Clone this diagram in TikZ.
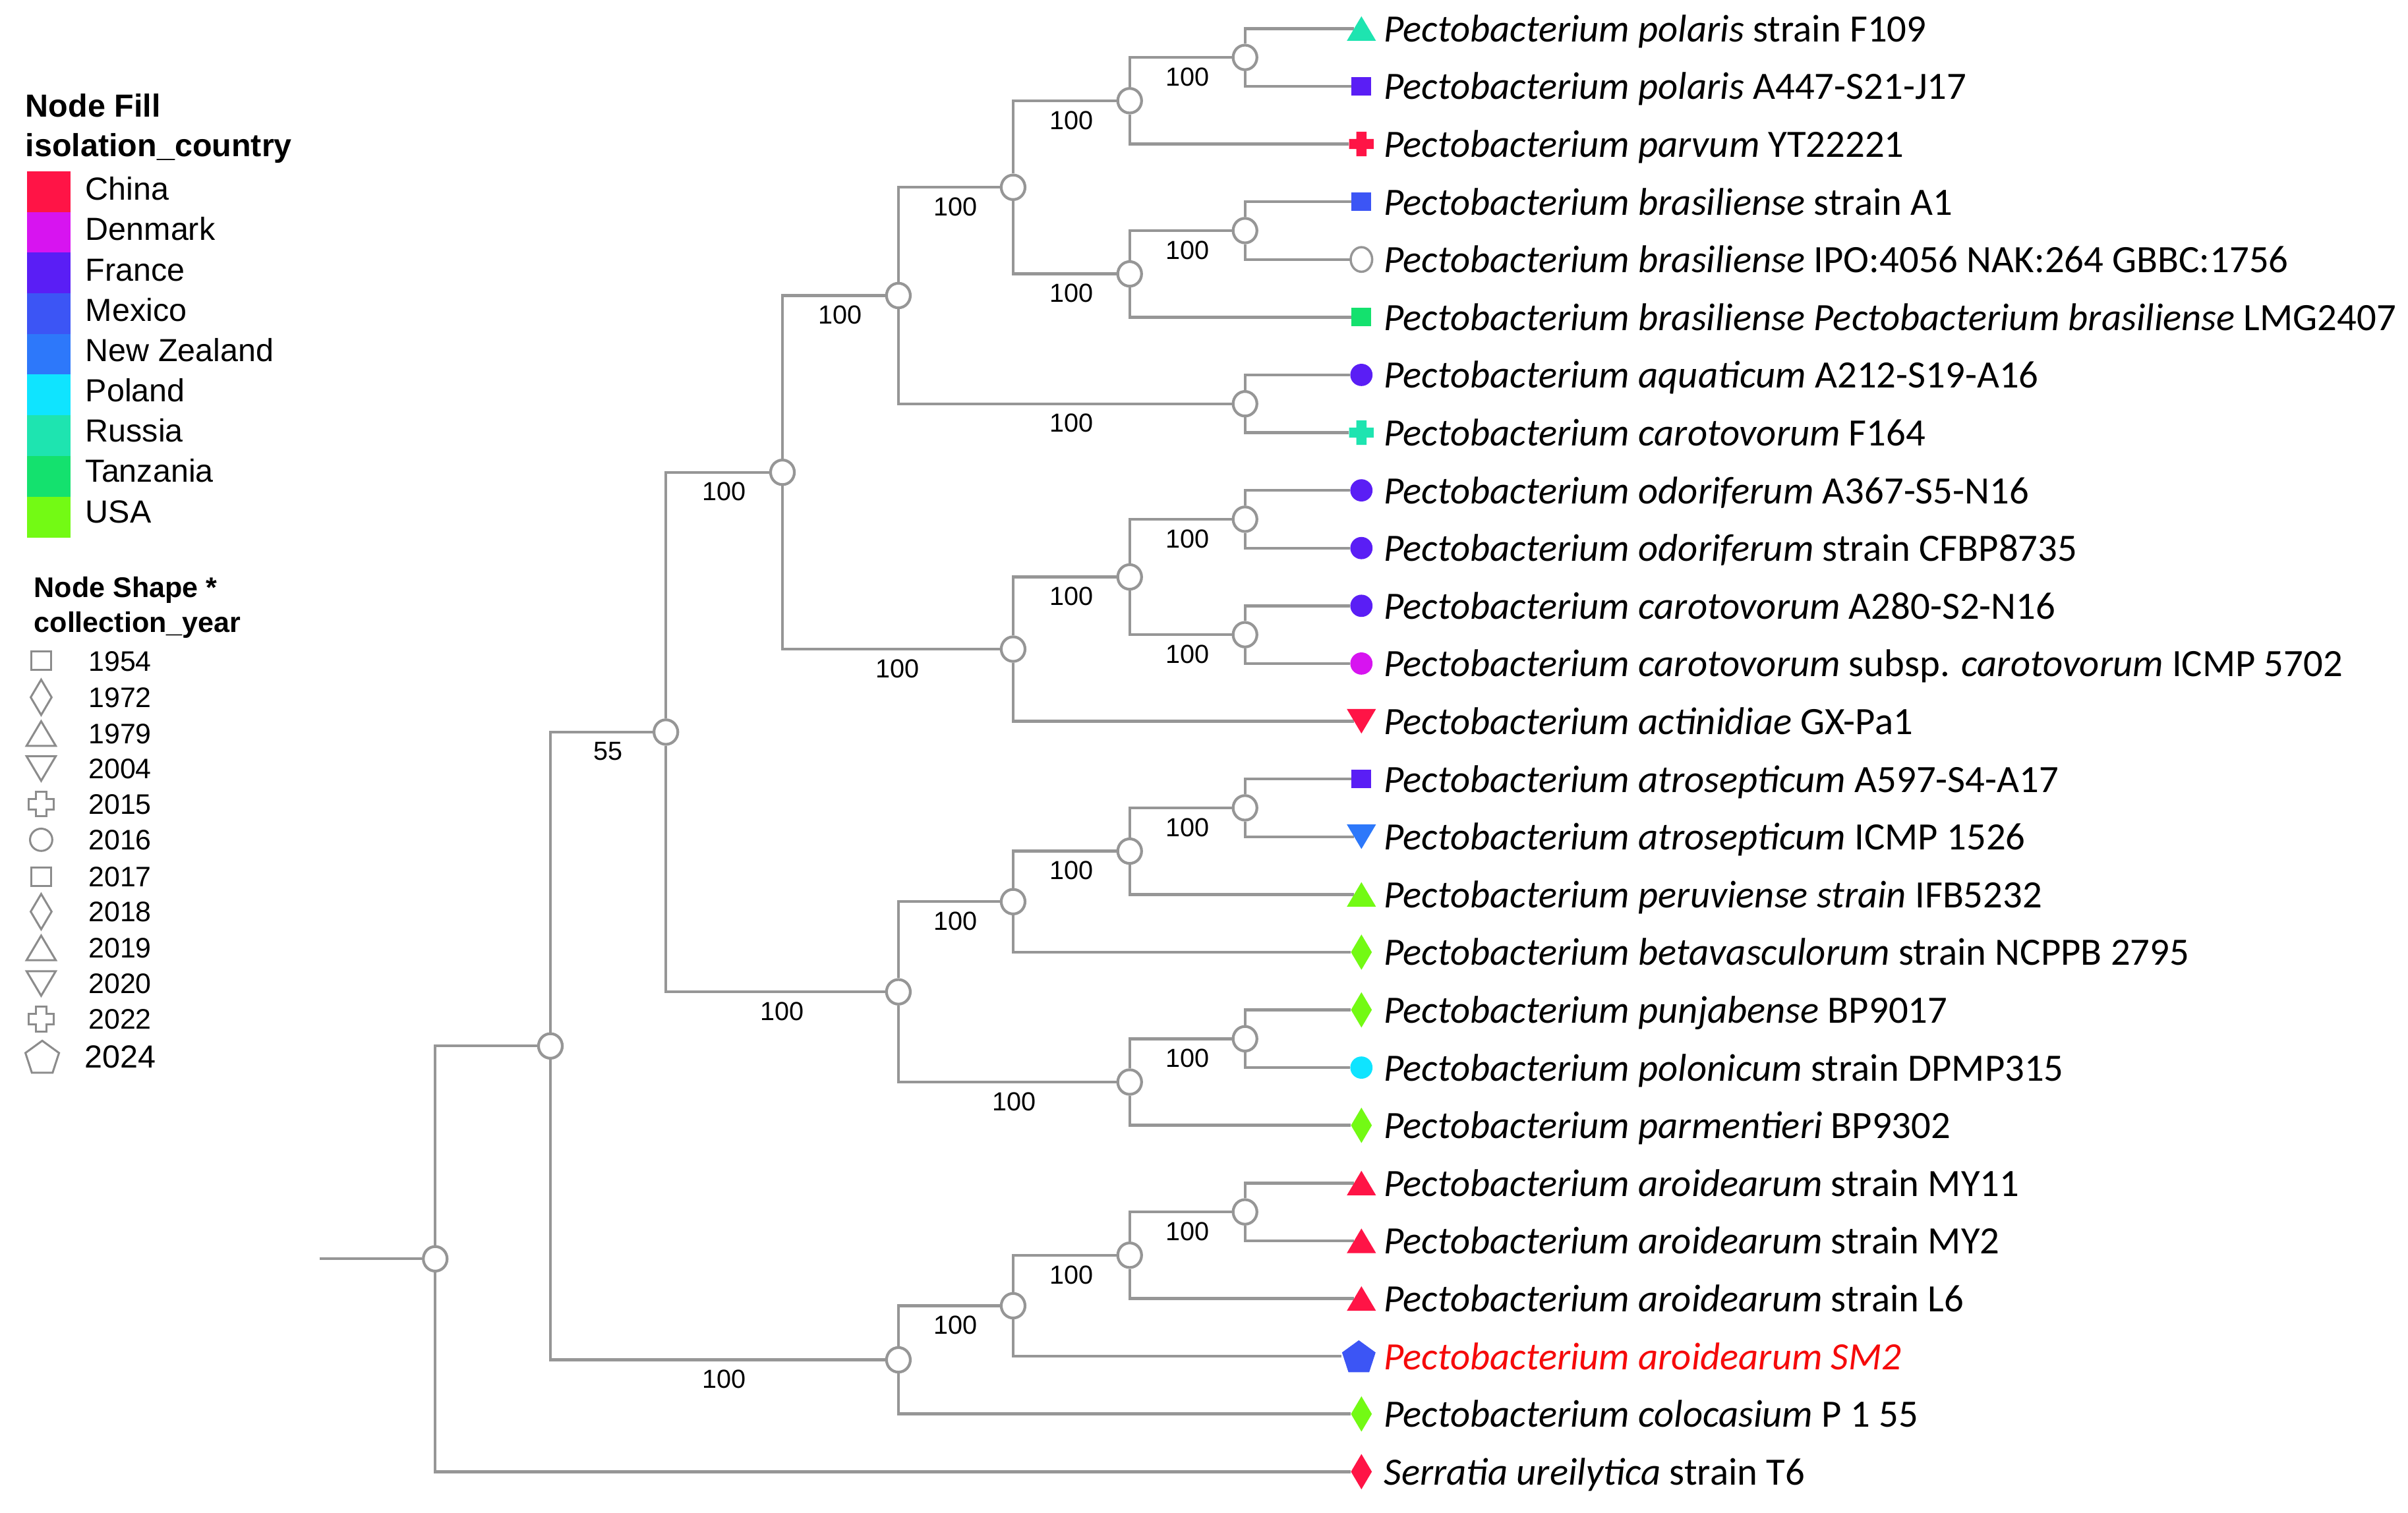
\documentclass[tikz,border=0pt]{standalone}
\usepackage{fontspec}
\setmainfont{Liberation Sans}
\newfontfamily\calfont{Carlito}
\usetikzlibrary{shapes.geometric}
\definecolor{brgray}{RGB}{150,150,150}
\definecolor{lgray}{RGB}{140,140,140}
\definecolor{cChina}{RGB}{255,20,70}
\definecolor{cDenmark}{RGB}{215,20,240}
\definecolor{cFrance}{RGB}{90,30,245}
\definecolor{cMexico}{RGB}{60,85,245}
\definecolor{cNZ}{RGB}{45,120,250}
\definecolor{cPoland}{RGB}{15,228,255}
\definecolor{cRussia}{RGB}{30,228,176}
\definecolor{cTanzania}{RGB}{20,225,110}
\definecolor{cUSA}{RGB}{115,250,20}
\definecolor{redlab}{RGB}{245,10,10}
\tikzset{
  branch/.style={draw=brgray, line width=1.9pt},
  inode/.style={ellipse, draw=brgray, fill=white, line width=1.8pt, minimum width=15.5pt, minimum height=16pt, inner sep=0pt},
  mk/.style={rectangle, inner sep=0pt, minimum width=#1, minimum height=4pt},
  lab/.style={anchor=base west, inner sep=0pt, font=\calfont\fontsize{25.2}{29}\selectfont},
  bs/.style={inner sep=0pt, font=\fontsize{17}{20}\selectfont},
  lgtitle/.style={anchor=base west, inner sep=0pt, font=\bfseries\fontsize{20.8}{24}\selectfont},
  lgtext/.style={anchor=base west, inner sep=0pt, font=\fontsize{20.8}{24}\selectfont},
  lgtitleb/.style={anchor=base west, inner sep=0pt, font=\bfseries\fontsize{18.5}{22}\selectfont},
  lgyear/.style={anchor=base west, inner sep=0pt, font=\fontsize{18.4}{22}\selectfont},
  lgsym/.style={draw=lgray, line width=1.3pt, fill=white},
  sqp/.pic={\path[#1] (-6.5,-6) rectangle (6.5,6);},
  dotp/.pic={\path[#1] (0,0) circle (7.25);},
  opendot/.pic={\path[draw=brgray, fill=white, line width=1.5pt] (0,0) ellipse (7 and 8);},
  trip/.pic={\path[#1] (-9.5,-8) -- (9.5,-8) -- (0,8) -- cycle;},
  tridp/.pic={\path[#1] (-9.5,8) -- (9.5,8) -- (0,-8) -- cycle;},
  plusp/.pic={\path[#1] (-3.3,-8) -- (3.3,-8) -- (3.3,-3.3) -- (8,-3.3) -- (8,3.3) -- (3.3,3.3) -- (3.3,8) -- (-3.3,8) -- (-3.3,3.3) -- (-8,3.3) -- (-8,-3.3) -- (-3.3,-3.3) -- cycle;},
  diap/.pic={\path[#1] (0,-11.5) -- (6.8,0) -- (0,11.5) -- (-6.8,0) -- cycle;},
  pentp/.pic={\path[#1, shift={(0,-1.1)}] (90:11.5) -- (162:11.5) -- (234:11.5) -- (306:11.5) -- (18:11.5) -- cycle;},
}
\begin{document}
\begin{tikzpicture}[x=1pt,y=1pt]
\useasboundingbox[fill=white] (0,0) rectangle (1568,-985.5);

% ---------- internal nodes ----------
\node[inode] (L) at (810.7,-37.4) {};
\node[inode] (J) at (735.6,-65.6) {};
\node[inode] (M) at (810.7,-150.2) {};
\node[inode] (K) at (735.6,-178.4) {};
\node[inode] (H) at (659.7,-122.0) {};
\node[inode] (I) at (810.7,-263.0) {};
\node[inode] (F) at (585,-192.5) {};
\node[inode] (O) at (810.7,-338.2) {};
\node[inode] (P) at (810.7,-413.4) {};
\node[inode] (N) at (735.6,-375.8) {};
\node[inode] (G) at (659.7,-422.8) {};
\node[inode] (D) at (509.5,-307.65) {};
\node[inode] (T) at (810.7,-526.2) {};
\node[inode] (S) at (735.6,-554.4) {};
\node[inode] (Q) at (659.7,-587.3) {};
\node[inode] (U) at (810.7,-676.6) {};
\node[inode] (R) at (735.6,-704.8) {};
\node[inode] (E) at (585,-646.05) {};
\node[inode] (B) at (433.6,-476.85) {};
\node[inode] (X) at (810.7,-789.4) {};
\node[inode] (W) at (735.6,-817.6) {};
\node[inode] (V) at (659.7,-850.5) {};
\node[inode] (C) at (585,-885.75) {};
\node[inode] (A) at (358.4,-681.3) {};
\node[inode] (R0) at (283.4,-819.95) {};
\coordinate (stem) at (208,-819.95);

% ---------- leaf marker anchors ----------
\node[mk=9.5pt] (m1) at (886.5,-18.6) {};
\node[mk=13pt] (m2) at (886.5,-56.2) {};
\node[mk=16pt] (m3) at (886.5,-93.8) {};
\node[mk=13pt] (m4) at (886.5,-131.4) {};
\node[mk=14pt] (m5) at (886.5,-169.0) {};
\node[mk=13pt] (m6) at (886.5,-206.6) {};
\node[mk=14.5pt] (m7) at (886.5,-244.2) {};
\node[mk=16pt] (m8) at (886.5,-281.8) {};
\node[mk=14.5pt] (m9) at (886.5,-319.4) {};
\node[mk=14.5pt] (m10) at (886.5,-357.0) {};
\node[mk=14.5pt] (m11) at (886.5,-394.6) {};
\node[mk=14.5pt] (m12) at (886.5,-432.2) {};
\node[mk=9.5pt] (m13) at (886.5,-469.8) {};
\node[mk=13pt] (m14) at (886.5,-507.4) {};
\node[mk=9.5pt] (m15) at (886.5,-545.0) {};
\node[mk=9.5pt] (m16) at (886.5,-582.6) {};
\node[mk=13.6pt] (m17) at (886.5,-620.2) {};
\node[mk=13.6pt] (m18) at (886.5,-657.8) {};
\node[mk=14.5pt] (m19) at (886.5,-695.4) {};
\node[mk=13.6pt] (m20) at (886.5,-733.0) {};
\node[mk=9.5pt] (m21) at (886.5,-770.6) {};
\node[mk=9.5pt] (m22) at (886.5,-808.2) {};
\node[mk=9.5pt] (m23) at (886.5,-845.8) {};
\node[mk=22pt] (m24) at (884.8,-883.4) {};
\node[mk=13.6pt] (m25) at (886.5,-921.0) {};
\node[mk=13.6pt] (m26) at (886.5,-958.6) {};

% ---------- branches ----------
\draw[branch] (stem) -- (R0);
\foreach \p/\c in {L/m1,L/m2,J/L,J/m3,M/m4,M/m5,K/M,K/m6,H/J,H/K,I/m7,I/m8,F/H,F/I,
  O/m9,O/m10,P/m11,P/m12,N/O,N/P,G/N,G/m13,D/F,D/G,
  T/m14,T/m15,S/T,S/m16,Q/S,Q/m17,U/m18,U/m19,R/U,R/m20,E/Q,E/R,B/D,B/E,
  X/m21,X/m22,W/X,W/m23,V/W,V/m24,C/V,C/m25,A/B,A/C,R0/A,R0/m26}
  \draw[branch] (\p) |- (\c);

% ---------- markers ----------
\pic at (m1) {trip={fill=cRussia}};
\pic at (m2) {sqp={fill=cFrance}};
\pic at (m3) {plusp={fill=cChina}};
\pic at (m4) {sqp={fill=cMexico}};
\pic at (m5) {opendot};
\pic at (m6) {sqp={fill=cTanzania}};
\pic at (m7) {dotp={fill=cFrance}};
\pic at (m8) {plusp={fill=cRussia}};
\pic at (m9) {dotp={fill=cFrance}};
\pic at (m10) {dotp={fill=cFrance}};
\pic at (m11) {dotp={fill=cFrance}};
\pic at (m12) {dotp={fill=cDenmark}};
\pic at (m13) {tridp={fill=cChina}};
\pic at (m14) {sqp={fill=cFrance}};
\pic at (m15) {tridp={fill=cNZ}};
\pic at (m16) {trip={fill=cUSA}};
\pic at (m17) {diap={fill=cUSA}};
\pic at (m18) {diap={fill=cUSA}};
\pic at (m19) {dotp={fill=cPoland}};
\pic at (m20) {diap={fill=cUSA}};
\pic at (m21) {trip={fill=cChina}};
\pic at (m22) {trip={fill=cChina}};
\pic at (m23) {trip={fill=cChina}};
\pic at (m24) {pentp={fill=cMexico}};
\pic at (m25) {diap={fill=cUSA}};
\pic at (m26) {diap={fill=cChina}};

% ---------- bootstrap values ----------
\node[bs] (bL) at (773.15,-50.1) {100};
\node[bs] (bJ) at (697.65,-78.3) {100};
\node[bs] (bM) at (773.15,-162.9) {100};
\node[bs] (bK) at (697.65,-191.1) {100};
\node[bs] (bH) at (622.35,-134.7) {100};
\node[bs] (bI) at (697.85,-275.7) {100};
\node[bs] (bF) at (547.25,-205.2) {100};
\node[bs] (bO) at (773.15,-350.9) {100};
\node[bs] (bP) at (773.15,-426.1) {100};
\node[bs] (bN) at (697.65,-388.5) {100};
\node[bs] (bG) at (584.6,-435.5) {100};
\node[bs] (bD) at (471.55,-320.35) {100};
\node[bs] (bT) at (773.15,-538.9) {100};
\node[bs] (bS) at (697.65,-567.1) {100};
\node[bs] (bQ) at (622.35,-600.0) {100};
\node[bs] (bU) at (773.15,-689.3) {100};
\node[bs] (bR) at (660.3,-717.5) {100};
\node[bs] (bE) at (509.3,-658.75) {100};
\node[bs] (bB) at (396,-489.55) {55};
\node[bs] (bX) at (773.15,-802.1) {100};
\node[bs] (bW) at (697.65,-830.3) {100};
\node[bs] (bV) at (622.35,-863.2) {100};
\node[bs] (bC) at (471.7,-898.45) {100};

% ---------- leaf labels ----------
\node[lab] (t1) at (901,-27.2) {\textit{Pectobacterium polaris} strain F109};
\node[lab] (t2) at (901,-64.8) {\textit{Pectobacterium polaris} A447-S21-J17};
\node[lab] (t3) at (901,-102.4) {\textit{Pectobacterium parvum} YT22221};
\node[lab] (t4) at (901,-140.0) {\textit{Pectobacterium brasiliense} strain A1};
\node[lab] (t5) at (901,-177.6) {\textit{Pectobacterium brasiliense} IPO:4056 NAK:264 GBBC:1756};
\node[lab] (t6) at (901,-215.2) {\textit{Pectobacterium brasiliense Pectobacterium brasiliense} LMG2407};
\node[lab] (t7) at (901,-252.8) {\textit{Pectobacterium aquaticum} A212-S19-A16};
\node[lab] (t8) at (901,-290.4) {\textit{Pectobacterium carotovorum} F164};
\node[lab] (t9) at (901,-328.0) {\textit{Pectobacterium odoriferum} A367-S5-N16};
\node[lab] (t10) at (901,-365.6) {\textit{Pectobacterium odoriferum} strain CFBP8735};
\node[lab] (t11) at (901,-403.2) {\textit{Pectobacterium carotovorum} A280-S2-N16};
\node[lab] (t12) at (901,-440.8) {\textit{Pectobacterium carotovorum} subsp. \textit{carotovorum} ICMP 5702};
\node[lab] (t13) at (901,-478.4) {\textit{Pectobacterium actinidiae} GX-Pa1};
\node[lab] (t14) at (901,-516.0) {\textit{Pectobacterium atrosepticum} A597-S4-A17};
\node[lab] (t15) at (901,-553.6) {\textit{Pectobacterium atrosepticum} ICMP 1526};
\node[lab] (t16) at (901,-591.2) {\textit{Pectobacterium peruviense strain} IFB5232};
\node[lab] (t17) at (901,-628.8) {\textit{Pectobacterium betavasculorum} strain NCPPB 2795};
\node[lab] (t18) at (901,-666.4) {\textit{Pectobacterium punjabense} BP9017};
\node[lab] (t19) at (901,-704.0) {\textit{Pectobacterium polonicum} strain DPMP315};
\node[lab] (t20) at (901,-741.6) {\textit{Pectobacterium parmentieri} BP9302};
\node[lab] (t21) at (901,-779.2) {\textit{Pectobacterium aroidearum} strain MY11};
\node[lab] (t22) at (901,-816.8) {\textit{Pectobacterium aroidearum} strain MY2};
\node[lab] (t23) at (901,-854.4) {\textit{Pectobacterium aroidearum} strain L6};
\node[lab, text=redlab] (t24) at (901,-892.0) {\textit{Pectobacterium aroidearum SM2}};
\node[lab] (t25) at (901,-929.6) {\textit{Pectobacterium colocasium} P 1 55};
\node[lab] (t26) at (901,-967.2) {\textit{Serratia ureilytica} strain T6};

% ---------- legend: node fill ----------
\node[lgtitle] (lgA) at (16.5,-76) {Node Fill};
\node[lgtitle] (lgB) at (16.5,-102) {isolation\_country};
\foreach \c/\t [count=\k from 0] in {cChina/China,cDenmark/Denmark,cFrance/France,cMexico/Mexico,cNZ/New Zealand,cPoland/Poland,cRussia/Russia,cTanzania/Tanzania,cUSA/USA}{
  \fill[\c] (17.5,-111.5-26.5*\k) rectangle (46,-138.2-26.5*\k);
  \node[lgtext] (lc\k) at (55.5,-130.4-26.25*\k) {\t};
}

% ---------- legend: node shape ----------
\node[lgtitleb] (lgC) at (22,-389) {Node Shape *};
\node[lgtitleb] (lgD) at (22,-412) {collection\_year};
\coordinate (s1) at (26.8,-430.5);
\coordinate (s2) at (26.8,-454.2);
\coordinate (s3) at (26.8,-477.8);
\coordinate (s4) at (26.8,-500.6);
\coordinate (s5) at (26.8,-523.8);
\coordinate (s6) at (26.8,-547.0);
\coordinate (s7) at (26.8,-571.0);
\coordinate (s8) at (26.8,-593.8);
\coordinate (s9) at (26.8,-617.4);
\coordinate (s10) at (26.8,-640.6);
\coordinate (s11) at (26.8,-663.8);
\coordinate (s12) at (27.5,-688.3);
\pic at (s1) {sqp=lgsym};
\pic at (s2) {diap=lgsym};
\pic at (s3) {trip=lgsym};
\pic at (s4) {tridp=lgsym};
\pic at (s5) {plusp=lgsym};
\pic at (s6) {dotp=lgsym};
\pic at (s7) {sqp=lgsym};
\pic at (s8) {diap=lgsym};
\pic at (s9) {trip=lgsym};
\pic at (s10) {tridp=lgsym};
\pic at (s11) {plusp=lgsym};
\pic at (s12) {pentp=lgsym};
\node[lgyear] (y1) at (57.5,-437.1) {1954};
\node[lgyear] (y2) at (57.5,-460.8) {1972};
\node[lgyear] (y3) at (57.5,-484.4) {1979};
\node[lgyear] (y4) at (57.5,-507.2) {2004};
\node[lgyear] (y5) at (57.5,-530.4) {2015};
\node[lgyear] (y6) at (57.5,-553.6) {2016};
\node[lgyear] (y7) at (57.5,-577.6) {2017};
\node[lgyear] (y8) at (57.5,-600.4) {2018};
\node[lgyear] (y9) at (57.5,-624.0) {2019};
\node[lgyear] (y10) at (57.5,-647.2) {2020};
\node[lgyear] (y11) at (57.5,-670.4) {2022};
\node[lgtext] (y12) at (55,-695.7) {2024};
\end{tikzpicture}
\end{document}
